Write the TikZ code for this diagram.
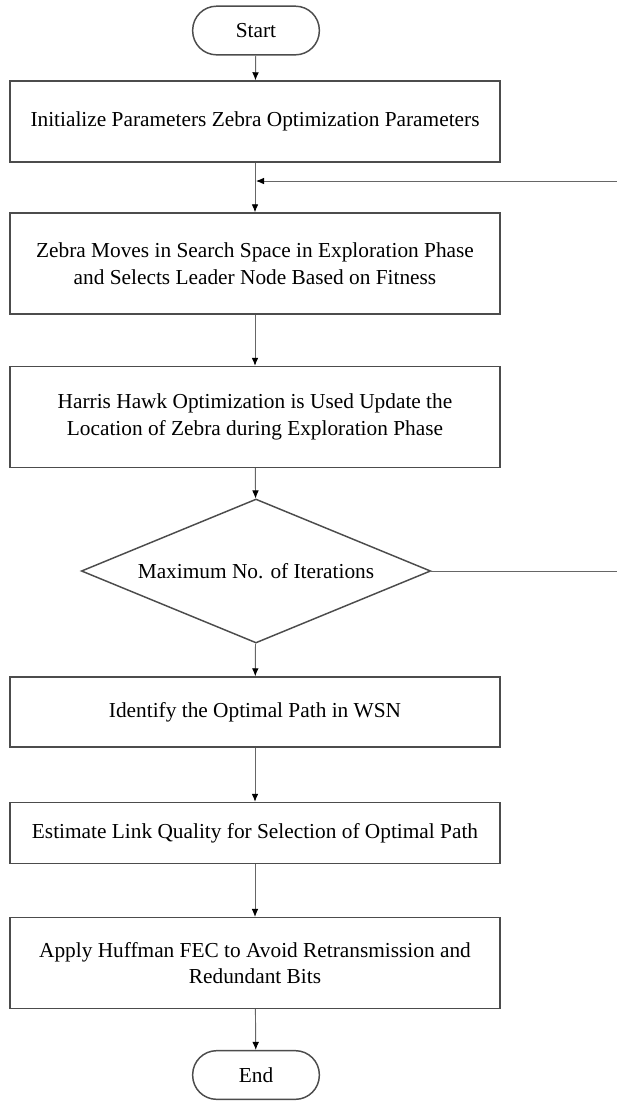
\documentclass[tikz,border=0pt]{standalone}
\usepackage{fontspec}
\setmainfont{Liberation Serif}[Ligatures=TeX]
\usetikzlibrary{shapes.geometric, arrows.meta}

\tikzset{
  procbox/.style={draw=black!70, line width=1.1pt, fill=white, align=center,
    minimum width=367.5pt, inner sep=2pt, font=\fontsize{16}{20}\selectfont},
  termbox/.style={draw=black!70, line width=1.1pt, fill=white, rounded corners=18pt,
    minimum width=95pt, minimum height=36.5pt, font=\fontsize{16}{20}\selectfont},
  testbox/.style={diamond, draw=black!70, line width=1.1pt, fill=white, aspect=2.4,
    inner sep=0pt, minimum width=262pt, minimum height=108pt, font=\fontsize{16}{20}\selectfont},
  flowline/.style={draw=black!60, line width=0.7pt},
  flowarrow/.style={flowline, -{Latex[length=6pt, width=5pt, black]}},
}

\begin{document}
\begin{tikzpicture}[x=0.75pt, y=-0.75pt]
    \def \cx{256}
    \def \redge{617}

    \useasboundingbox (0,0) rectangle (617,1101);

    % terminals and steps
    \node[termbox] (start) at (\cx,30.5) {Start};
    \node[procbox, minimum height=60.75pt] (init) at (255,121.5)
      {Initialize Parameters Zebra Optimization Parameters};
    \node[procbox, minimum height=75.75pt] (move) at (255,263.5)
      {Zebra Moves in Search Space in Exploration Phase\\ and Selects Leader Node Based on Fitness};
    \node[procbox, minimum height=75.75pt] (hawk) at (255,417)
      {Harris Hawk Optimization is Used Update the\\ Location of Zebra during Exploration Phase};
    \node[testbox] (maxit) at (\cx,571) {Maximum No. of Iterations};
    \node[procbox, minimum height=52.5pt] (path) at (255,712)
      {Identify the Optimal Path in WSN};
    \node[procbox, minimum height=45.75pt] (link) at (255,833)
      {Estimate Link Quality for Selection of Optimal Path};
    \node[procbox, minimum height=68pt] (fec) at (255,963)
      {Apply Huffman FEC to Avoid Retransmission and\\ Redundant Bits};
    \node[termbox] (stop) at (\cx,1075) {End};

    % loop back points
    \coordinate (join) at (\cx,181);
    \coordinate (edgeT) at (\redge,181);
    \coordinate (edgeB) at (\redge,571);

    \draw[flowarrow] (start) -- (init);%
    \draw[flowarrow] (init) -- (move);%
    \draw[flowarrow] (move) -- (hawk);%
    \draw[flowarrow] (hawk) -- (maxit);%
    \draw[flowarrow] (maxit) -- (path);%
    \draw[flowarrow] (path) -- (link);%
    \draw[flowarrow] (link) -- (fec);%
    \draw[flowarrow] (fec) -- (stop);%

    \draw[flowline] (maxit.east) -- (edgeB);%
    \draw[flowarrow] (edgeT) -- (join);%
\end{tikzpicture}
\end{document}
